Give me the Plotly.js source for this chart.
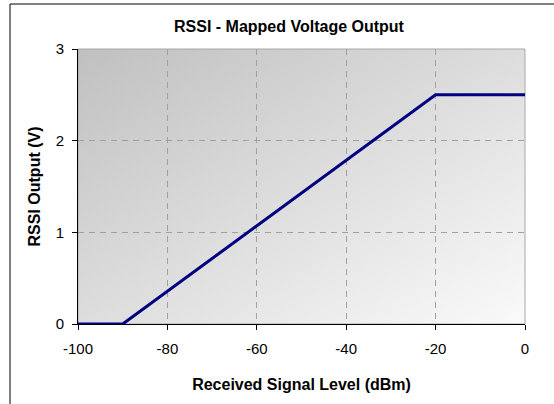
<!DOCTYPE html>
<html><head><meta charset="utf-8">
<script src="https://cdn.plot.ly/plotly-3.0.1.min.js"></script>
<style>html,body{margin:0;padding:0;background:#fff}#chart{width:554px;height:404px}</style>
</head><body><div id="chart"></div>
<script>
// Data
const signalLevel = [-100, -90, -20, 0];       // dBm
const rssiOutput  = [0, 0, 2.5, 2.5];          // V
const xTicks = [-100, -80, -60, -40, -20, 0];
const xTickText = ['-100', '-80', '-60', '-40', '-20', '0'];
const yTicks = [0, 1, 2, 3];
const yTickText = ['0', '1', '2', '3'];

const gradSvg = '<svg xmlns="http://www.w3.org/2000/svg" width="100" height="100" preserveAspectRatio="none">' +
  '<defs><linearGradient id="g" x1="0" y1="0" x2="1" y2="1">' +
  '<stop offset="0" stop-color="#c0c0c0"/><stop offset="1" stop-color="#fafafa"/></linearGradient></defs>' +
  '<rect width="100" height="100" fill="url(#g)"/></svg>';
const gradUri = 'data:image/svg+xml;base64,' + btoa(gradSvg);

const font = {family: 'Liberation Sans, Arial, sans-serif', color: '#000'};

const trace = {
  x: signalLevel, y: rssiOutput, type: 'scatter', mode: 'lines',
  line: {color: '#000080', width: 3}, hoverinfo: 'skip', cliponaxis: false
};

const layout = {
  width: 554, height: 404,
  margin: {l: 78, r: 29, t: 49, b: 80},
  paper_bgcolor: '#fff', plot_bgcolor: 'rgba(0,0,0,0)',
  showlegend: false,
  font: Object.assign({size: 14}, font),
  title: {text: '<b>RSSI - Mapped Voltage Output</b>', font: Object.assign({size: 16}, font),
          x: 0.472, xref: 'paper', xanchor: 'center', y: 1, yref: 'paper', yanchor: 'bottom', pad: {b: 17}},
  xaxis: {
    range: [-100, 0], tickvals: xTicks, ticktext: xTickText, ticks: 'outside', ticklen: 5, tickcolor: '#000',
    ticklabelstandoff: 6,
    showline: true, linecolor: '#000', linewidth: 1, zeroline: false,
    showgrid: true, gridcolor: '#a0a0a0', griddash: '6px,5px', gridwidth: 1,
    tickfont: Object.assign({size: 15}, font),
    title: {text: '<b>Received Signal Level (dBm)</b>', font: Object.assign({size: 16}, font), standoff: 22}
  },
  yaxis: {
    range: [0, 3], tickvals: yTicks, ticktext: yTickText, ticks: 'outside', ticklen: 5, tickcolor: '#000',
    ticklabelstandoff: 5,
    showline: true, linecolor: '#000', linewidth: 1, zeroline: false,
    showgrid: true, gridcolor: '#a0a0a0', griddash: '6px,5px', gridwidth: 1,
    tickfont: Object.assign({size: 15}, font),
    title: {text: '<b>RSSI Output (V)</b>', font: Object.assign({size: 16}, font), standoff: 11}
  },
  images: [{source: gradUri, xref: 'paper', yref: 'paper', x: 0, y: 1, sizex: 1, sizey: 1,
            xanchor: 'left', yanchor: 'top', sizing: 'stretch', layer: 'below'}],
  shapes: [
    {type: 'rect', xref: 'paper', yref: 'paper', x0: 0, x1: 1, y0: 0, y1: 1,
     line: {color: '#a8a8a8', width: 1}, fillcolor: 'rgba(0,0,0,0)', layer: 'below'},
    {type: 'rect', xref: 'paper', yref: 'paper', x0: -68/447, x1: 1.2, y0: -1, y1: 1 + 45/275,
     line: {color: '#000', width: 1}, fillcolor: 'rgba(0,0,0,0)', layer: 'above'}
  ]
};

Plotly.newPlot('chart', [trace], layout, {displayModeBar: false, staticPlot: true});
</script></body></html>
